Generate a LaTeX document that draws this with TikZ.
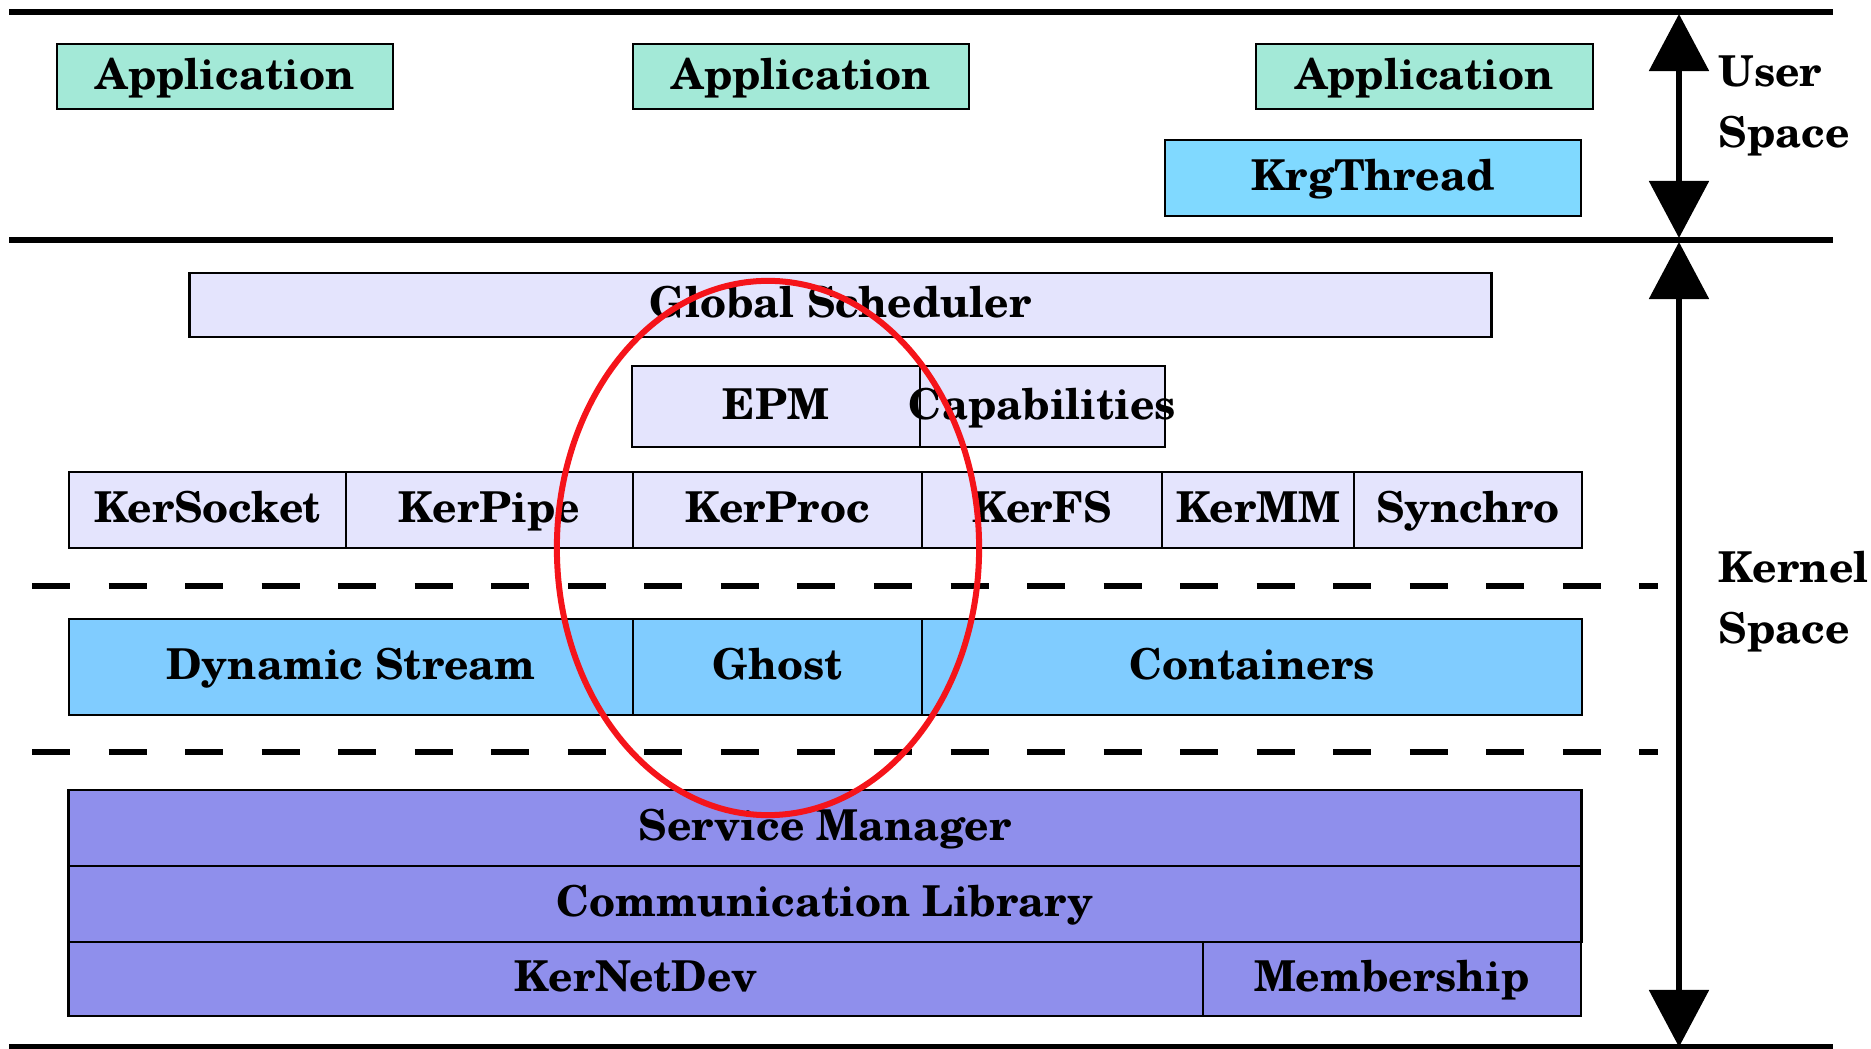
\documentclass[tikz,border=0pt]{standalone}
\usepackage{fontspec}
\setmainfont{TeX Gyre Schola}
\usetikzlibrary{arrows.meta}

\definecolor{appc}{HTML}{A3E9D7}
\definecolor{krgc}{HTML}{80D9FF}
\definecolor{dync}{HTML}{80CCFF}
\definecolor{lavc}{HTML}{E4E4FD}
\definecolor{purc}{HTML}{8F8FEC}
\definecolor{ringc}{HTML}{F5141A}

\newcommand\lblfont{\fontsize{12.1}{14}\selectfont\bfseries}

\tikzset{
  blk/.style={draw=black, line width=0.7pt, inner sep=0pt,
    text height=0.72em, text depth=0pt, font=\lblfont},
  rule/.style={line width=0.055cm},
  sep/.style={line width=0.06cm, dash pattern=on 0.38cm off 0.385cm},
  span/.style={line width=0.055cm,
    {Triangle[length=0.57cm,width=0.59cm]}-{Triangle[length=0.57cm,width=0.59cm]}},
  side/.style={anchor=west, align=left, inner sep=0pt,
    font=\fontsize{12.1}{17.4}\selectfont\bfseries},
  ring/.style={draw=ringc, line width=0.06cm}
}

\begin{document}
\begin{tikzpicture}[x=0.01cm, y=-0.01cm]
\useasboundingbox (0,0) rectangle (1871,1049);

% horizontal rules
\draw[rule] (9,12) -- (1833,12);
\draw[rule] (9,240) -- (1833,240);
\draw[rule] (9,1047) -- (1833,1047);

% user space
\node[blk, fill=appc, minimum width=3.36cm, minimum height=0.65cm] (app1) at (225,76.5) {Application};
\node[blk, fill=appc, minimum width=3.36cm, minimum height=0.65cm] (app2) at (801,76.5) {Application};
\node[blk, fill=appc, minimum width=3.37cm, minimum height=0.65cm] (app3) at (1424.5,76.5) {Application};
\node[blk, fill=krgc, minimum width=4.16cm, minimum height=0.76cm] (krg) at (1373,178) {KrgThread};

% kernel services
\node[blk, fill=lavc, minimum width=13.01cm, minimum height=0.64cm] (gs) at (840.5,305) {Global Scheduler};
\node[blk, fill=lavc, minimum width=2.88cm, minimum height=0.81cm] (epm) at (776,406.5) {EPM};
\node[blk, fill=lavc, minimum width=2.45cm, minimum height=0.81cm] (cap) at (1042.5,406.5) {\makebox[0pt]{Capabilities}};

\node[blk, fill=lavc, minimum width=2.77cm, minimum height=0.76cm] (ksock) at (207.5,510) {KerSocket};
\node[blk, fill=lavc, minimum width=2.87cm, minimum height=0.76cm] (kpipe) at (489.5,510) {KerPipe};
\node[blk, fill=lavc, minimum width=2.89cm, minimum height=0.76cm] (kproc) at (777.5,510) {KerProc};
\node[blk, fill=lavc, minimum width=2.40cm, minimum height=0.76cm] (kfs) at (1042,510) {KerFS};
\node[blk, fill=lavc, minimum width=1.92cm, minimum height=0.76cm] (kmm) at (1258,510) {KerMM};
\node[blk, fill=lavc, minimum width=2.28cm, minimum height=0.76cm] (sync) at (1468,510) {Synchro};

\draw[sep] (32,586) -- (1658,586);

\node[blk, fill=dync, minimum width=5.64cm, minimum height=0.96cm] (dyn) at (351,667) {Dynamic Stream};
\node[blk, fill=dync, minimum width=2.89cm, minimum height=0.96cm] (ghost) at (777.5,667) {Ghost};
\node[blk, fill=dync, minimum width=6.60cm, minimum height=0.96cm] (cont) at (1252,667) {Containers};

\draw[sep] (32,752) -- (1658,752);

\node[blk, fill=purc, minimum width=15.12cm, minimum height=0.76cm] (sm) at (825,828) {Service Manager};
\node[blk, fill=purc, minimum width=15.12cm, minimum height=0.76cm] (cl) at (825,904) {Communication Library};
\node[blk, fill=purc, minimum width=11.34cm, minimum height=0.74cm] (knd) at (636,979) {KerNetDev};
\node[blk, fill=purc, minimum width=3.78cm, minimum height=0.74cm] (memb) at (1392,979) {Membership};

% extent arrows and labels
\coordinate (ut) at (1679,14);
\coordinate (ub) at (1679,238);
\coordinate (kt) at (1679,242);
\coordinate (kb) at (1679,1047);
\draw[span] (ut) -- (ub);
\draw[span] (kt) -- (kb);
\node[side] (user) at (1718,106) {User\\Space};
\node[side] (kern) at (1718,602) {Kernel\\Space};

% highlighted column
\draw[ring] (768,548) ellipse [x radius=2.11cm, y radius=2.67cm];
\end{tikzpicture}
\end{document}
